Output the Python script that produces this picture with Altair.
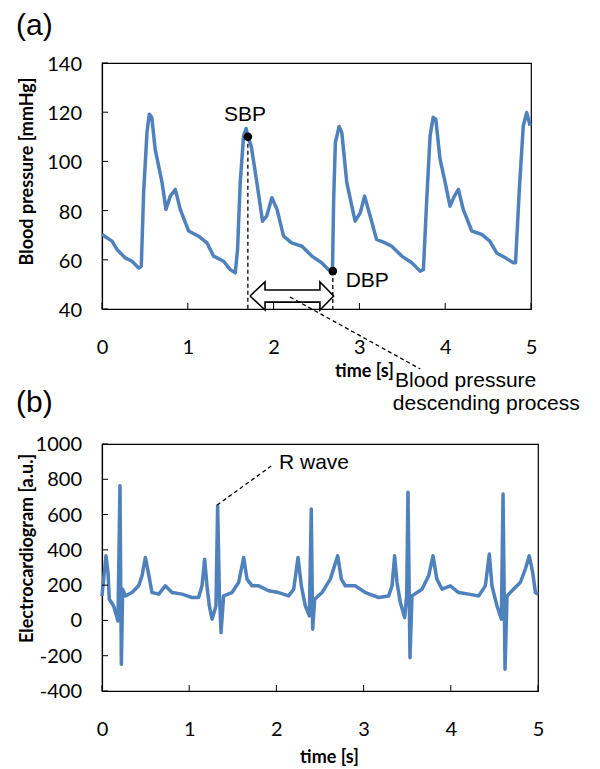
import altair as alt
import pandas as pd

# ---------------- data ----------------
bp_time = [0.0, 0.116, 0.175, 0.27, 0.35, 0.427, 0.458, 0.485, 0.524, 0.551, 0.58, 0.62, 0.70, 0.745,
           0.796, 0.854, 0.912, 1.01, 1.126, 1.223, 1.30, 1.417, 1.495, 1.553, 1.58, 1.611, 1.65, 1.68,
           1.70, 1.739, 1.805, 1.871, 1.92, 1.98, 2.04, 2.116, 2.21, 2.33, 2.446, 2.56, 2.64, 2.686,
           2.70, 2.72, 2.764, 2.795, 2.853, 2.95, 3.01, 3.06, 3.125, 3.2, 3.3, 3.377, 3.494, 3.61,
           3.707, 3.746, 3.785, 3.824, 3.86, 3.89, 3.94, 4.0, 4.056, 4.107, 4.154, 4.21, 4.31, 4.425,
           4.52, 4.6, 4.7, 4.795, 4.82, 4.864, 4.91, 4.95, 4.99]
bp_value = [70.3, 67.6, 64.2, 60.8, 59.4, 56.7, 57.4, 87.3, 111.7, 119.2, 117.9, 104.9, 91.4, 80.5,
            85.9, 88.6, 80.5, 71.7, 69.6, 66.9, 61.5, 59.4, 56.0, 54.7, 64.2, 91.4, 110.4, 113.4,
            110.0, 106.3, 91.4, 75.7, 77.8, 85.2, 80.5, 69.6, 66.9, 65.5, 61.5, 58.8, 56.0, 55.4,
            84.6, 107.7, 114.2, 111.7, 91.4, 75.7, 79.1, 85.9, 77.8, 68.3, 66.9, 65.5, 61.5, 58.8,
            55.4, 56.0, 84.6, 110.4, 117.9, 117.2, 100.9, 91.4, 81.8, 85.9, 88.6, 80.5, 71.7, 70.3,
            67.6, 62.8, 60.8, 58.8, 58.8, 88.6, 114.5, 119.9, 114.5]

ecg_time = [0.0, 0.019, 0.046, 0.069, 0.084, 0.134, 0.183, 0.206, 0.222, 0.237, 0.268, 0.344, 0.42,
            0.459, 0.497, 0.535, 0.573, 0.65, 0.726, 0.803, 0.917, 1.032, 1.108, 1.147, 1.177, 1.204,
            1.231, 1.262, 1.307, 1.326, 1.346, 1.365, 1.395, 1.49, 1.567, 1.625, 1.663, 1.72, 1.797,
            1.911, 2.026, 2.14, 2.198, 2.248, 2.286, 2.332, 2.378, 2.40, 2.416, 2.439, 2.523, 2.618,
            2.703, 2.745, 2.79, 2.905, 3.02, 3.173, 3.287, 3.326, 3.356, 3.383, 3.421, 3.471, 3.494,
            3.509, 3.532, 3.555, 3.67, 3.746, 3.796, 3.84, 3.9, 3.995, 4.09, 4.205, 4.32, 4.396,
            4.442, 4.472, 4.53, 4.58, 4.599, 4.622, 4.645, 4.702, 4.797, 4.855, 4.9, 4.939, 4.97, 5.0]
ecg_value = [139, 234, 366, 272, 120, 82, -3, 763, -249, 177, 139, 158, 196,
             253, 357, 262, 158, 149, 196, 158, 149, 130, 130, 196, 347, 196,
             82, 7, 82, 650, 158, -69, 139, 158, 215, 357, 234, 196, 196,
             168, 158, 139, 177, 357, 196, 82, 26, 631, -50, 120, 158, 234,
             366, 234, 196, 196, 158, 130, 139, 196, 366, 215, 101, 16, 139,
             726, -211, 139, 177, 253, 366, 234, 177, 196, 158, 149, 139, 196,
             376, 196, 82, 7, 716, -277, 139, 168, 215, 291, 366, 272, 158, 149]

x_ticks = [0, 1, 2, 3, 4, 5]
bp_ticks = [40, 60, 80, 100, 120, 140]
ecg_ticks = [-400, -200, 0, 200, 400, 600, 800, 1000]

marker_labels = ["SBP", "DBP"]
marker_time = [1.70, 2.69]
marker_value = [110.0, 55.4]

arrow_time = [1.725, 1.90, 1.90, 2.54, 2.54, 2.70, 2.54, 2.54, 1.90, 1.90, 1.725]
arrow_value = [45.3, 51.0, 47.7, 47.7, 51.0, 45.3, 39.6, 42.8, 42.8, 39.6, 45.3]

leader_bp_time = [2.19, 3.71]
leader_bp_value = [44.9, 15.6]
leader_ecg_time = [1.32, 1.94]
leader_ecg_value = [654, 875]

BLUE = "#4F81BD"
W1, H1 = 429, 246
W2, H2 = 436, 247
ANN = 21
TICKFONT = "Lato"
TICKSIZE = 20

# ---------------- top panel ----------------
bp_df = pd.DataFrame({"t": bp_time, "v": bp_value})
xscale = alt.Scale(domain=[0, 5], nice=False)
bpscale = alt.Scale(domain=[40, 140], nice=False)

bp_line = alt.Chart(bp_df).mark_line(color=BLUE, strokeWidth=3.5, strokeJoin="round").encode(
    x=alt.X("t:Q", scale=xscale,
            axis=alt.Axis(values=x_ticks, format="d", title="time [s]", titleX=262, titleY=62,
                          titleBaseline="middle", titleAlign="center", labelFlush=False,
                          labelPadding=28)),
    y=alt.Y("v:Q", scale=bpscale,
            axis=alt.Axis(values=bp_ticks, labels=False, title="Blood pressure  [mmHg]", titleX=-75,
                          titleY=108, titleBaseline="middle", titleAlign="center", titleAngle=-90)),
)

ylab1 = alt.Chart(pd.DataFrame({"v": bp_ticks, "label": [str(v) for v in bp_ticks]})).mark_text(
    align="right", baseline="middle", font=TICKFONT, fontSize=TICKSIZE, color="black", dy=2, clip=False
).encode(y="v:Q", x=alt.value(-20), text="label:N")

drop_df = pd.DataFrame({"t": marker_time, "v": marker_value, "v2": [39, 39]})
drops = alt.Chart(drop_df).mark_rule(color="black", strokeDash=[4, 3], strokeWidth=1.3, clip=False).encode(
    x="t:Q", y="v:Q", y2="v2:Q")

arrow_df = pd.DataFrame({"t": arrow_time, "v": arrow_value, "i": list(range(len(arrow_time)))})
arrow = alt.Chart(arrow_df).mark_line(color="black", strokeWidth=1.6, clip=False, strokeJoin="miter").encode(
    x="t:Q", y="v:Q", order="i:Q")

lead_df = pd.DataFrame({"t": leader_bp_time, "v": leader_bp_value})
lead = alt.Chart(lead_df).mark_line(color="black", strokeDash=[4, 3], strokeWidth=1.3, clip=False).encode(
    x="t:Q", y="v:Q")

dots = alt.Chart(drop_df).mark_circle(color="black", opacity=1, size=75).encode(x="t:Q", y="v:Q")

lab_df = pd.DataFrame({"t": [1.667, 2.84], "v": [118.9, 51.4], "label": marker_labels})
sbp_txt = alt.Chart(lab_df.iloc[[0]]).mark_text(font="Liberation Sans", fontSize=ANN, align="center",
                                               baseline="middle", color="black").encode(
    x="t:Q", y="v:Q", text="label:N")
dbp_txt = alt.Chart(lab_df.iloc[[1]]).mark_text(font="Liberation Sans", fontSize=ANN, align="left",
                                               baseline="middle", color="black").encode(
    x="t:Q", y="v:Q", text="label:N")

desc_df = pd.DataFrame({"t": [3.415, 3.39], "v": [10.7, 1.5],
                        "label": ["Blood pressure", "descending process"]})
desc_txt = alt.Chart(desc_df).mark_text(font="Liberation Sans", fontSize=ANN, align="left",
                                        baseline="middle", color="black", clip=False).encode(
    x="t:Q", y="v:Q", text="label:N")

xt_df = pd.DataFrame({"t": x_ticks})
xt1 = alt.Chart(xt_df).mark_rule(color="black", strokeWidth=1).encode(
    x="t:Q", y=alt.value(H1), y2=alt.value(H1 - 6))
yt_df1 = pd.DataFrame({"v": bp_ticks})
yt1 = alt.Chart(yt_df1).mark_rule(color="black", strokeWidth=1).encode(
    y="v:Q", x=alt.value(0), x2=alt.value(6))

top = alt.layer(bp_line, ylab1, xt1, yt1, drops, arrow, lead, dots, sbp_txt, dbp_txt, desc_txt).properties(
    width=W1, height=H1,
    title=alt.TitleParams("(a)", anchor="start", frame="group", dx=-86, offset=14,
                          font="Liberation Sans", fontSize=30, fontWeight="normal", color="black"))

# ---------------- bottom panel ----------------
ecg_df = pd.DataFrame({"t": ecg_time, "v": ecg_value})
ecgscale = alt.Scale(domain=[-400, 1000], nice=False)

ecg_line = alt.Chart(ecg_df).mark_line(color=BLUE, strokeWidth=3.5, strokeJoin="round").encode(
    x=alt.X("t:Q", scale=xscale,
            axis=alt.Axis(values=x_ticks, format="d", title="time [s]", titleX=227, titleY=66,
                          titleBaseline="middle", titleAlign="center", labelFlush=False,
                          labelPadding=28)),
    y=alt.Y("v:Q", scale=ecgscale,
            axis=alt.Axis(values=ecg_ticks, labels=False, title="Electrocardiogram [a.u.]", titleX=-75,
                          titleY=104, titleBaseline="middle", titleAlign="center", titleAngle=-90)),
)

ylab2 = alt.Chart(pd.DataFrame({"v": ecg_ticks, "label": [str(v) for v in ecg_ticks]})).mark_text(
    align="right", baseline="middle", font=TICKFONT, fontSize=TICKSIZE, color="black", dy=1, clip=False
).encode(y="v:Q", x=alt.value(-20), text="label:N")

lead2_df = pd.DataFrame({"t": leader_ecg_time, "v": leader_ecg_value})
lead2 = alt.Chart(lead2_df).mark_line(color="black", strokeDash=[4, 3], strokeWidth=1.3, clip=False).encode(
    x="t:Q", y="v:Q")
rw_df = pd.DataFrame({"t": [2.03], "v": [892], "label": ["R wave"]})
rw_txt = alt.Chart(rw_df).mark_text(font="Liberation Sans", fontSize=ANN, align="left",
                                    baseline="middle", color="black").encode(
    x="t:Q", y="v:Q", text="label:N")

xt2 = alt.Chart(xt_df).mark_rule(color="black", strokeWidth=1).encode(
    x="t:Q", y=alt.value(H2), y2=alt.value(H2 - 6))
yt_df2 = pd.DataFrame({"v": ecg_ticks})
yt2 = alt.Chart(yt_df2).mark_rule(color="black", strokeWidth=1).encode(
    y="v:Q", x=alt.value(0), x2=alt.value(6))

bottom = alt.layer(ecg_line, ylab2, xt2, yt2, lead2, rw_txt).properties(
    width=W2, height=H2,
    title=alt.TitleParams("(b)", anchor="start", frame="group", dx=-86, offset=17,
                          font="Liberation Sans", fontSize=30, fontWeight="normal", color="black"))

chart = alt.vconcat(top, bottom, spacing=135, bounds="flush").properties(
    padding={"left": 7, "top": 2, "right": 5, "bottom": 0}
).configure_view(
    stroke="black", strokeWidth=1.2
).configure_axis(
    grid=False, ticks=False, tickSize=0, domainColor="black", domainWidth=1.2,
    labelFont=TICKFONT, labelFontSize=TICKSIZE, labelColor="black",
    titleFont="Lato", titleFontSize=18, titleFontWeight="bold", titleColor="black"
)

chart.save("out.html", embed_options={"renderer": "svg", "actions": False})
